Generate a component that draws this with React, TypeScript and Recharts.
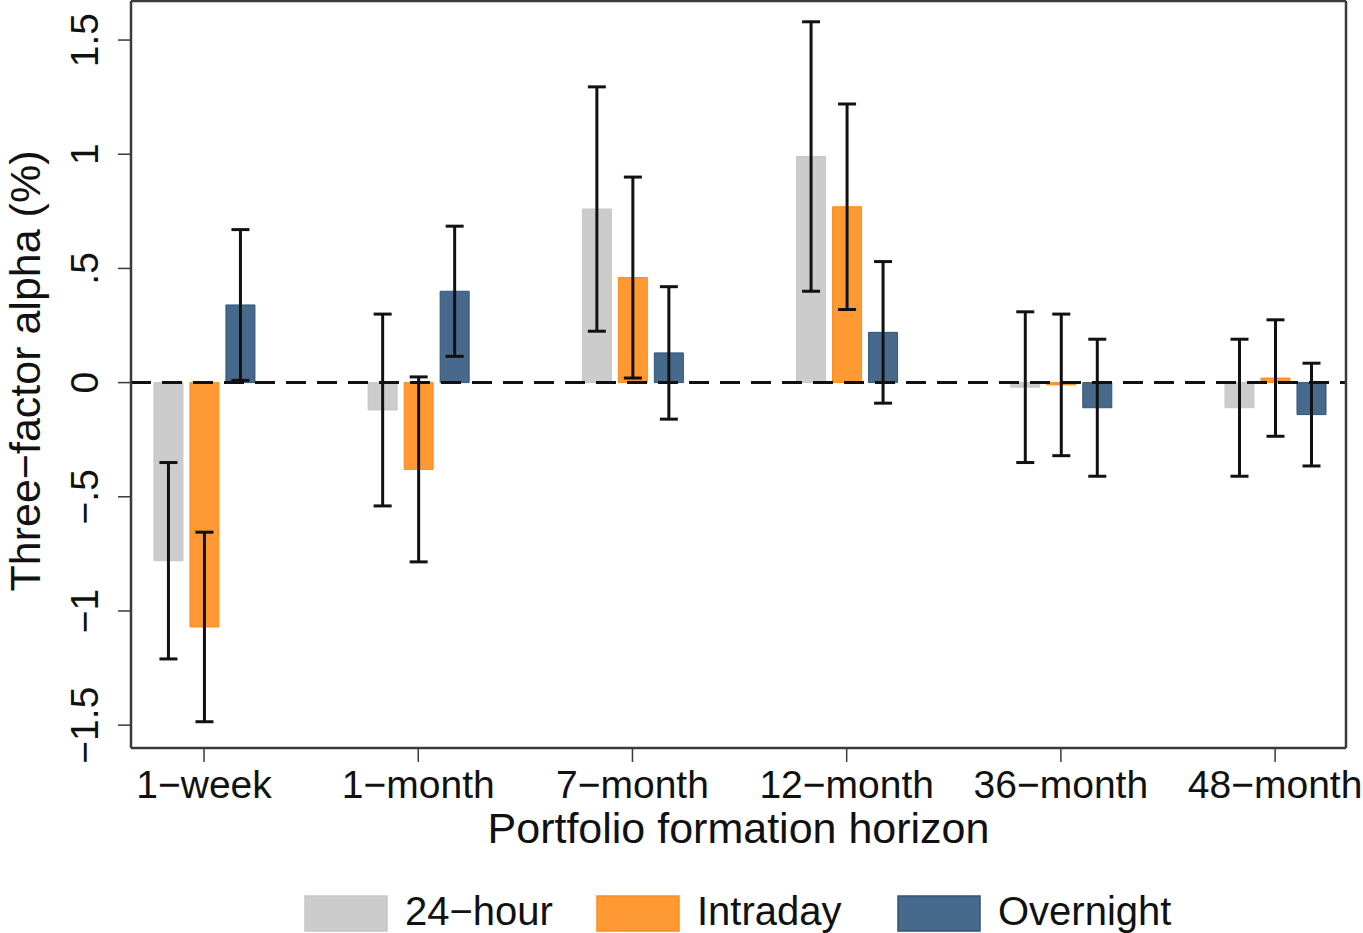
import { BarChart, Bar, XAxis, YAxis, ErrorBar, ReferenceLine, Legend } from 'recharts';

// horizons, one group of three bars each
const CATEGORIES = ['1−week', '1−month', '7−month', '12−month', '36−month', '48−month'];

// three-factor alpha (%) and half-width of the confidence band
const HOUR24 = [-0.78, -0.12, 0.76, 0.99, -0.02, -0.11];
const HOUR24_ERR = [0.43, 0.42, 0.535, 0.59, 0.33, 0.3];
const INTRADAY = [-1.07, -0.38, 0.46, 0.77, -0.01, 0.02];
const INTRADAY_ERR = [0.415, 0.405, 0.44, 0.45, 0.31, 0.255];
const OVERNIGHT = [0.34, 0.4, 0.13, 0.22, -0.11, -0.14];
const OVERNIGHT_ERR = [0.33, 0.285, 0.29, 0.31, 0.3, 0.225];

const Y_TICKS = [-1.5, -1, -0.5, 0, 0.5, 1, 1.5];
const Y_TICK_LABELS = ['−1.5', '−1', '−.5', '0', '.5', '1', '1.5'];

const SERIES = [
  { key: 'h24', err: 'h24Err', name: '24−hour', fill: '#CCCCCC', stroke: '#C6C6C6' },
  { key: 'intra', err: 'intraErr', name: 'Intraday', fill: '#FF9933', stroke: '#FF8C1A' },
  { key: 'over', err: 'overErr', name: 'Overnight', fill: '#46698C', stroke: '#2E5579' },
];

const data = CATEGORIES.map((name, i) => ({
  x: i,
  name,
  h24: HOUR24[i],
  h24Err: HOUR24_ERR[i],
  intra: INTRADAY[i],
  intraErr: INTRADAY_ERR[i],
  over: OVERNIGHT[i],
  overErr: OVERNIGHT_ERR[i],
}));

const FONT = '"Liberation Sans", Arial, Helvetica, sans-serif';
const FRAME = '#3a3a3a';
const X_DOMAIN: [number, number] = [-0.341, 5.331];
const Y_DOMAIN: [number, number] = [-1.6, 1.671];
const LEGEND_X = [305, 597, 898];

const XTick = (props: any) => {
  const { x, payload } = props;
  return (
    <text x={x} y={798} textAnchor="middle" fontSize={39} fontFamily={FONT} fill="#111">
      {CATEGORIES[payload.value]}
    </text>
  );
};

const YTick = (props: any) => {
  const { y, payload } = props;
  const label = Y_TICK_LABELS[Y_TICKS.indexOf(payload.value)];
  return (
    <text x={98} y={y} transform={`rotate(-90 98 ${y})`} textAnchor="middle" fontSize={39} fontFamily={FONT} fill="#111">
      {label}
    </text>
  );
};

const LegendBox = () => (
  <svg width={1363} height={85} style={{ display: 'block' }}>
    {SERIES.map((s, i) => (
      <g key={s.key}>
        <rect x={LEGEND_X[i]} y={48} width={82} height={35} fill={s.fill} stroke={s.stroke} strokeWidth={1.5} />
        <text x={LEGEND_X[i] + 100} y={77} fontSize={40} fontFamily={FONT} fill="#111">
          {s.name}
        </text>
      </g>
    ))}
  </svg>
);

export default function App() {
  return (
    <div style={{ position: 'absolute', left: 0, top: 0, width: 1363, height: 933, background: '#fff' }}>
      <BarChart
        width={1363}
        height={933}
        data={data}
        margin={{ top: 0, right: 16, bottom: 0, left: 0 }}
        barSize={29}
        barGap={7}
      >
        <XAxis
          dataKey="x"
          type="number"
          domain={X_DOMAIN}
          ticks={[0, 1, 2, 3, 4, 5]}
          allowDataOverflow
          height={100}
          tick={<XTick />}
          tickSize={14}
          tickLine={{ stroke: FRAME, strokeWidth: 1.5 }}
          axisLine={{ stroke: FRAME, strokeWidth: 2.5 }}
          label={{
            content: (p: any) => {
              const vb = p.viewBox || {};
              return (
                <text x={vb.x + vb.width / 2} y={843} textAnchor="middle" fontSize={43} fontFamily={FONT} fill="#111">
                  Portfolio formation horizon
                </text>
              );
            },
          }}
        />
        <XAxis
          xAxisId="top"
          orientation="top"
          type="number"
          domain={X_DOMAIN}
          allowDataOverflow
          height={1}
          tick={false}
          tickLine={false}
          axisLine={{ stroke: FRAME, strokeWidth: 2.5 }}
        />
        <YAxis
          type="number"
          domain={Y_DOMAIN}
          ticks={Y_TICKS}
          allowDataOverflow
          width={131}
          tick={<YTick />}
          tickSize={13}
          tickLine={{ stroke: FRAME, strokeWidth: 1.5 }}
          axisLine={{ stroke: FRAME, strokeWidth: 2.5 }}
          label={{
            content: () => (
              <text x={40} y={371} transform="rotate(-90 40 371)" textAnchor="middle" fontSize={43} fontFamily={FONT} fill="#111">
                Three−factor alpha (%)
              </text>
            ),
          }}
        />
        <YAxis
          yAxisId="right"
          orientation="right"
          type="number"
          domain={Y_DOMAIN}
          allowDataOverflow
          width={1}
          tick={false}
          tickLine={false}
          axisLine={{ stroke: FRAME, strokeWidth: 2.5 }}
        />
        {SERIES.map((s) => (
          <Bar key={s.key} dataKey={s.key} name={s.name} fill={s.fill} stroke={s.stroke} strokeWidth={1} isAnimationActive={false}>
            <ErrorBar dataKey={s.err} direction="y" width={9} stroke="#111" strokeWidth={3} />
          </Bar>
        ))}
        <ReferenceLine y={0} stroke="#111" strokeWidth={3} strokeDasharray="20 11" />
        <Legend
          verticalAlign="bottom"
          content={<LegendBox />}
          wrapperStyle={{ left: 0, bottom: 0, width: 1363, height: 85 }}
        />
      </BarChart>
    </div>
  );
}
